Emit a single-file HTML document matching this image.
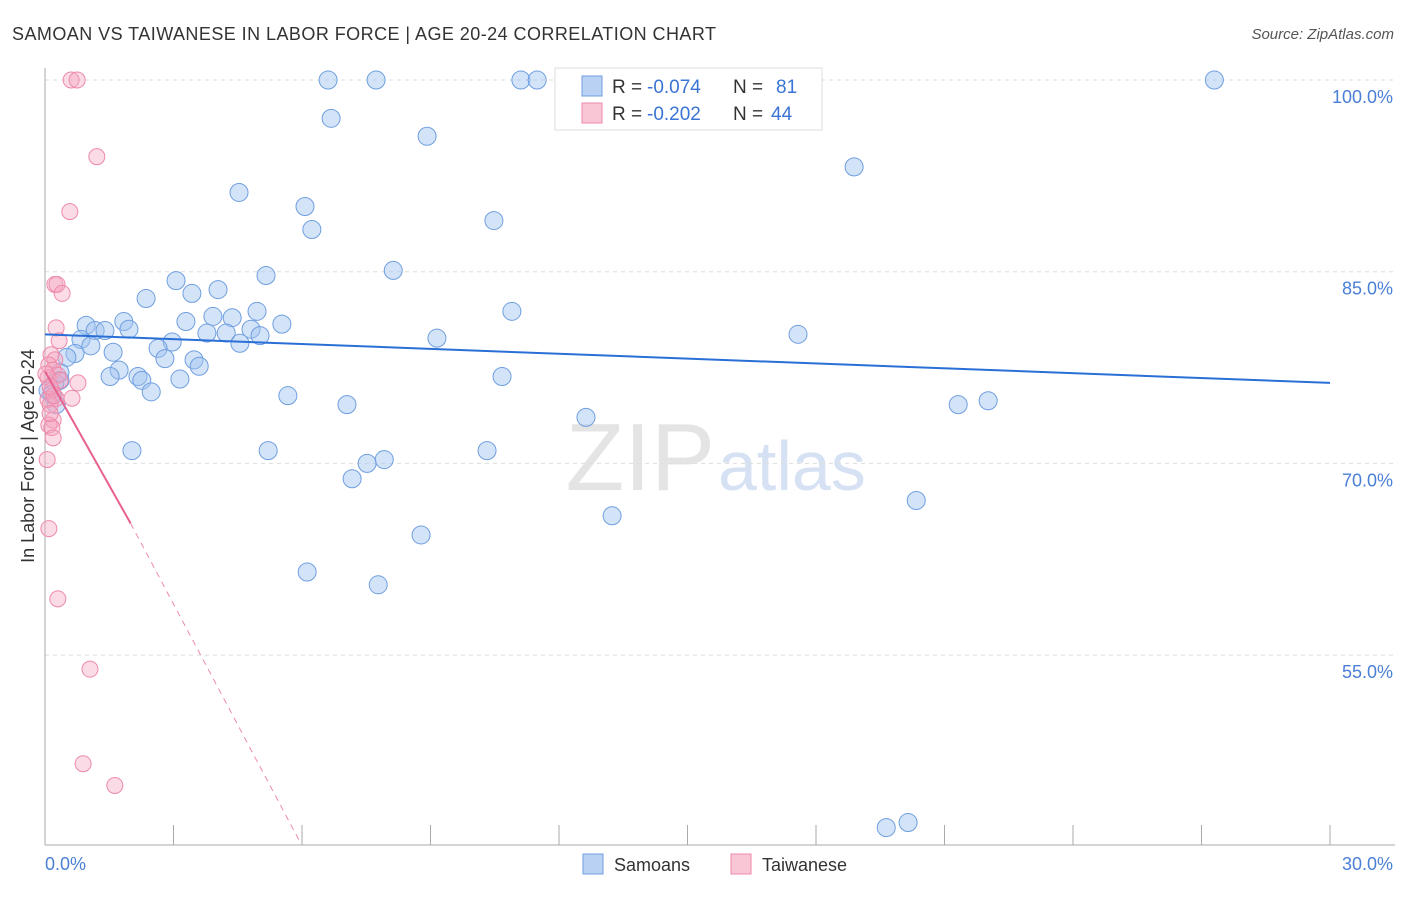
<!DOCTYPE html>
<html><head><meta charset="utf-8"><style>
body{margin:0;background:#fff;font-family:"Liberation Sans",sans-serif}
svg text{font-family:"Liberation Sans",sans-serif}
</style></head><body>
<svg id="chart" width="1406" height="892">
<text x="12" y="40" font-size="18" fill="#333" textLength="704">SAMOAN VS TAIWANESE IN LABOR FORCE | AGE 20-24 CORRELATION CHART</text>
<text x="1394" y="39" font-size="15" fill="#555" text-anchor="end" font-style="italic">Source: ZipAtlas.com</text>
<text x="715" y="490" font-size="96" fill="#e4e4e4" text-anchor="end" font-family="Liberation Serif">ZIP</text>
<text x="718" y="490" font-size="70" fill="#d6e2f4">atlas</text>
<g id="grid"></g><g id="axes"></g><g id="pts"></g><g id="trend"></g>
<text transform="translate(34,456) rotate(-90)" font-size="18" fill="#333" text-anchor="middle">In Labor Force | Age 20-24</text>
<text x="45" y="870" font-size="18" fill="#4a7fd6">0.0%</text>
<text x="1393" y="870" font-size="18" fill="#4a7fd6" text-anchor="end">30.0%</text>
<g>
<rect x="555" y="68" width="267" height="62" fill="#fff" stroke="#ddd"/>
<rect x="582" y="76" width="20" height="20" fill="#b9d1f3" stroke="#6f9ee0"/>
<rect x="582" y="103" width="20" height="20" fill="#f9c6d6" stroke="#ee8aaa"/>
<text x="612" y="93" font-size="19" fill="#333">R =</text>
<text x="647" y="93" font-size="19" fill="#3a74d4">-0.074</text>
<text x="733" y="93" font-size="19" fill="#333">N =</text>
<text x="776" y="93" font-size="19" fill="#3a74d4">81</text>
<text x="612" y="120" font-size="19" fill="#333">R =</text>
<text x="647" y="120" font-size="19" fill="#3a74d4">-0.202</text>
<text x="733" y="120" font-size="19" fill="#333">N =</text>
<text x="771" y="120" font-size="19" fill="#3a74d4">44</text>
</g>
<g>
<rect x="583" y="854" width="20" height="20" fill="#b9d1f3" stroke="#6f9ee0"/>
<text x="614" y="871" font-size="18" fill="#333">Samoans</text>
<rect x="731" y="854" width="20" height="20" fill="#f9c6d6" stroke="#ee8aaa"/>
<text x="762" y="871" font-size="18" fill="#333">Taiwanese</text>
</g>
</svg>
<script>
const yTicks=[100,85,70,55];
const xTicks=[0,3,6,9,12,15,18,21,24,27,30];
const blueX=[6.61,7.73,11.11,11.49,27.30,6.68,8.92,18.89,4.53,6.07,10.48,6.23,8.13,5.16,3.06,2.36,3.43,4.04,4.95,3.92,4.37,3.29,5.53,1.84,0.96,1.17,1.40,1.96,3.78,4.23,4.81,5.02,4.55,9.15,10.90,17.58,0.84,1.07,2.97,2.64,0.70,1.59,2.80,0.51,3.48,3.60,1.73,2.17,1.52,2.26,3.15,10.67,0.35,0.23,2.48,5.67,7.05,21.32,22.02,0.26,12.63,2.03,5.21,10.32,7.92,7.52,7.17,20.34,13.24,8.78,6.12,7.78,19.64,20.15,0.07,0.16,0.35];
const blueY=[100,100,100,100,100,97.0,95.6,93.2,91.2,90.1,89.0,88.3,85.1,84.7,84.3,82.9,83.3,83.6,81.9,81.5,81.4,81.1,80.9,81.1,80.8,80.4,80.4,80.5,80.2,80.2,80.5,80.0,79.4,79.8,81.9,80.1,79.7,79.2,79.5,79.0,78.6,78.7,78.2,78.3,78.1,77.6,77.3,76.8,76.8,76.5,76.6,76.8,76.5,76.3,75.6,75.3,74.6,74.6,74.9,74.6,73.6,71.0,71.0,71.0,70.3,70.0,68.8,67.1,65.9,64.4,61.5,60.5,41.5,41.9,75.7,75.4,77.1];
const pinkX=[0.61,0.75,1.21,0.58,0.23,0.28,0.40,0.26,0.33,0.14,0.23,0.09,0.19,0.30,0.77,0.07,0.16,0.26,0.63,0.07,0.12,0.19,0.09,0.16,0.19,0.05,0.09,0.30,1.05,0.89,1.63,0.12,0.21,0.35,0.02,0.12];
const pinkY=[100,100,94.0,89.7,84.0,84.0,83.3,80.6,79.6,78.5,78.1,77.7,77.3,76.9,76.3,76.7,75.7,75.1,75.1,75.0,74.6,73.4,73.0,72.8,72.0,70.3,64.9,59.4,53.9,46.5,44.8,73.9,75.3,76.5,77.0,76.0];
const blueTrendX=[0,30], blueTrendY=[80.1,76.3];
const pinkTrendX=[0,2.0], pinkTrendY=[77.2,65.3];
const pinkDashX=[2.0,5.95], pinkDashY=[65.3,40.4];
const X=v=>45+v/30*1285;
const Y=v=>80+(100-v)*12.78;
const NS='http://www.w3.org/2000/svg';
function mk(tag,attrs,parent){const e=document.createElementNS(NS,tag);for(const k in attrs)e.setAttribute(k,attrs[k]);document.getElementById(parent).appendChild(e);return e;}
yTicks.forEach(t=>{
 const l=mk('line',{x1:45,x2:1395,y1:Y(t),y2:Y(t),stroke:'#ddd','stroke-dasharray':'4,4'},'grid');
 
 
 const tx=mk('text',{x:1393,y:Y(t)+23,'font-size':18,fill:'#4a7fd6','text-anchor':'end'},'grid');
 tx.textContent=t.toFixed(1)+'%';
 
 
});
let a=mk('line',{x1:45,x2:45,y1:68,y2:845,stroke:'#aaa'},'axes');


a=mk('line',{x1:45,x2:1395,y1:845,y2:845,stroke:'#aaa'},'axes');


xTicks.forEach(t=>{
 const l=mk('line',{x1:X(t),x2:X(t),y1:825,y2:845,stroke:'#aaa'},'axes');
 
 
});
blueX.forEach((v,i)=>{
 const c=mk('circle',{cx:X(v),cy:Y(blueY[i]),r:9,fill:'rgba(160,195,240,0.45)',stroke:'#6f9ee0','stroke-width':1},'pts');
 
 
});
pinkX.forEach((v,i)=>{
 const c=mk('circle',{cx:X(v),cy:Y(pinkY[i]),r:8,fill:'rgba(245,165,192,0.4)',stroke:'#ee8aaa','stroke-width':1},'pts');
 
 
});
let t=mk('line',{x1:X(blueTrendX[0]),y1:Y(blueTrendY[0]),x2:X(blueTrendX[1]),y2:Y(blueTrendY[1]),stroke:'#2a6fd6','stroke-width':2},'trend');


t=mk('line',{x1:X(pinkTrendX[0]),y1:Y(pinkTrendY[0]),x2:X(pinkTrendX[1]),y2:Y(pinkTrendY[1]),stroke:'#e8608e','stroke-width':2},'trend');


t=mk('line',{x1:X(pinkDashX[0]),y1:Y(pinkDashY[0]),x2:X(pinkDashX[1]),y2:Y(pinkDashY[1]),stroke:'#ee8aaa','stroke-width':1,'stroke-dasharray':'6,5'},'trend');


</script>
</body></html>
